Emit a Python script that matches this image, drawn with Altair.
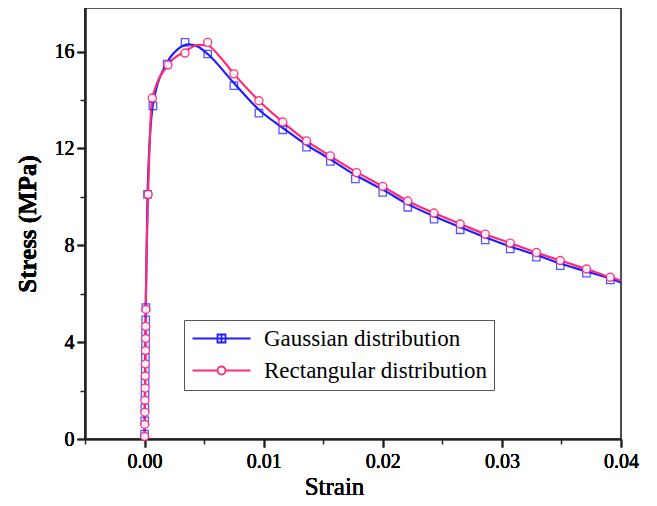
import altair as alt
import pandas as pd

series = ["Gaussian distribution", "Rectangular distribution"]
colors = ["#1e1eff", "#ff2a78"]

# ---- curve data ----
gauss_line_strain = [0.0, 0.0001, 0.00025, 0.0007, 0.0019, 0.0028, 0.0037, 0.0045, 0.0053, 0.0075,
                     0.0096, 0.0116, 0.0136, 0.0156, 0.0177, 0.0200, 0.0221, 0.0243, 0.0265, 0.0286,
                     0.0307, 0.0329, 0.0349, 0.0371, 0.0391, 0.0400]
gauss_line_stress = [0.0, 5.4, 10.1, 13.8, 15.55, 16.1, 16.3, 16.2, 15.9, 14.7,
                     13.6, 12.85, 12.15, 11.55, 10.9, 10.3, 9.7, 9.2, 8.75, 8.33,
                     7.95, 7.6, 7.25, 6.92, 6.62, 6.47]
rect_line_strain = [0.0, 0.0001, 0.0003, 0.00065, 0.00196, 0.0034, 0.0045, 0.0053, 0.0063, 0.0075,
                    0.0096, 0.0116, 0.0136, 0.0156, 0.0178, 0.0200, 0.0221, 0.0243, 0.0265, 0.0286,
                    0.0307, 0.0329, 0.0349, 0.0371, 0.0391, 0.0400]
rect_line_stress = [0.0, 5.4, 10.1, 14.05, 15.45, 16.0, 16.28, 16.25, 15.8, 15.08,
                    13.97, 13.09, 12.31, 11.68, 11.02, 10.43, 9.83, 9.33, 8.88, 8.46,
                    8.09, 7.70, 7.37, 7.02, 6.68, 6.55]

# ---- marker data ----
gauss_mark_strain = [0.000004, 0.000015, 0.000026, 0.000037, 0.000047, 0.000057, 0.000067, 0.000078,
                     0.000088, 0.000098, 0.000109, 0.00025, 0.0007, 0.0019, 0.0034, 0.0053, 0.0075,
                     0.0096, 0.0116, 0.0136, 0.0156, 0.0177, 0.0200, 0.0221, 0.0243, 0.0265, 0.0286,
                     0.0307, 0.0329, 0.0349, 0.0371, 0.0391]
gauss_mark_stress = [0.2, 0.75, 1.3, 1.84, 2.36, 2.87, 3.37, 3.9, 4.4, 4.92, 5.43, 10.1, 13.76, 15.48,
                     16.38, 15.9, 14.59, 13.46, 12.77, 12.05, 11.46, 10.74, 10.18, 9.57, 9.08, 8.64,
                     8.22, 7.85, 7.51, 7.16, 6.85, 6.57]
rect_mark_strain = [0.000004, 0.000015, 0.000026, 0.000037, 0.000047, 0.000057, 0.000067, 0.000078,
                    0.000088, 0.000098, 0.000109, 0.0003, 0.00065, 0.00196, 0.0034, 0.0053, 0.0075,
                    0.0096, 0.0116, 0.0136, 0.0156, 0.0178, 0.0200, 0.0221, 0.0243, 0.0265, 0.0286,
                    0.0307, 0.0329, 0.0349, 0.0371, 0.0391]
rect_mark_stress = [0.1, 0.6, 1.1, 1.6, 2.1, 2.6, 3.1, 3.65, 4.15, 4.65, 5.35, 10.1, 14.08, 15.45,
                    15.94, 16.38, 15.08, 13.97, 13.09, 12.31, 11.69, 11.0, 10.43, 9.83, 9.33, 8.88,
                    8.46, 8.09, 7.70, 7.37, 7.02, 6.68]

x_major = [0.0, 0.01, 0.02, 0.03, 0.04]
x_minor = [-0.005, 0.005, 0.015, 0.025, 0.035]
y_major = [0, 4, 8, 12, 16]
y_minor = [2, 6, 10, 14]

lines = pd.concat([
    pd.DataFrame({"strain": gauss_line_strain, "stress": gauss_line_stress, "series": series[0]}),
    pd.DataFrame({"strain": rect_line_strain, "stress": rect_line_stress, "series": series[1]}),
])
g_marks = pd.DataFrame({"strain": gauss_mark_strain, "stress": gauss_mark_stress, "series": series[0]})
r_marks = pd.DataFrame({"strain": rect_mark_strain, "stress": rect_mark_stress, "series": series[1]})

FONT = "Liberation Serif"
x_scale = alt.Scale(domain=[-0.005, 0.04], nice=False, zero=False)
y_scale = alt.Scale(domain=[0, 17.8], nice=False)

x_enc = alt.X("strain:Q", scale=x_scale,
              axis=alt.Axis(values=x_major, format=".2f", title="Strain", orient="bottom",
                            tickSize=8, labelFontSize=20, titleFontSize=25, titleFontWeight="normal",
                            titleX=249, labelPadding=4, titlePadding=3,
                            labelOverlap=False, labelFlush=False))
y_enc = alt.Y("stress:Q", scale=y_scale,
              axis=alt.Axis(values=y_major, title="Stress (MPa)", orient="left",
                            tickSize=8, labelFontSize=20, titleFontSize=25, titleFontWeight="bold",
                            labelPadding=3, titlePadding=14, labelOverlap=False))

# minor-tick axes (no labels, no domain line)
x_minor_enc = alt.X("strain:Q", scale=x_scale,
                    axis=alt.Axis(values=x_minor, orient="bottom", labels=False, domain=False,
                                  title=None, tickSize=5))
y_minor_enc = alt.Y("stress:Q", scale=y_scale,
                    axis=alt.Axis(values=y_minor, orient="left", labels=False, domain=False,
                                  title=None, tickSize=5))

color_scale = alt.Scale(domain=series, range=colors)

gauss_path = "M-2.9,0H2.9M-0.4,-0.4H0.4V0.4H-0.4ZM0,-0.4V0.4"
rect_path = "M-2.9,0H-0.4M0.4,0H2.9M0.4,0A0.4,0.4 0 1,1 -0.4,0A0.4,0.4 0 1,1 0.4,0Z"

legend = alt.Legend(
    title=None, orient="none", legendX=99, legendY=312,
    symbolSize=400, symbolOffset=19, symbolStrokeWidth=1.8, symbolOpacity=1,
    symbolFillColor="transparent",
    labelFont=FONT, labelFontSize=23, labelColor="black", labelOffset=31,
    labelExpr="datum.label + '    '",
    rowPadding=8, padding=7, strokeColor="#555555", fillColor="white",
    labelLimit=400,
)
color_enc = alt.Color("series:N", scale=color_scale, legend=legend)
shape_enc = alt.Shape("series:N", scale=alt.Scale(domain=series, range=[gauss_path, rect_path]), legend=legend)

line_layer = alt.Chart(lines).mark_line(strokeWidth=2.2, interpolate="monotone").encode(
    x=x_enc, y=y_enc, color=color_enc, detail="series:N",
)

g_layer = alt.Chart(g_marks).mark_point(shape="square", filled=False, size=55, strokeWidth=1.3, opacity=0.75).encode(
    x=x_enc, y=y_enc, color=color_enc,
)
r_layer = alt.Chart(r_marks).mark_point(shape="circle", filled=False, fill="white", fillOpacity=1, size=65, strokeWidth=1.4, opacity=0.9).encode(
    x=x_enc, y=y_enc, color=color_enc,
)

# legend-only layer: no marks drawn (empty after filter); legend comes from the explicit scale domains
legend_layer = alt.Chart(g_marks).mark_point(filled=False, size=400).encode(
    x=x_enc, y=y_enc, color=color_enc, shape=shape_enc,
).transform_filter("datum.stress < 0")

# minor-tick layer: draws nothing itself, only carries the minor-tick axes
minor_layer = alt.Chart(g_marks).mark_point(size=1).encode(
    x=x_minor_enc, y=y_minor_enc,
).transform_filter("datum.stress < 0")

chart = alt.layer(line_layer, g_layer, r_layer, legend_layer, minor_layer).resolve_axis(
    x="independent", y="independent"
).properties(
    width=536, height=431,
    background="white",
    autosize=alt.AutoSizeParams(type="none"),
    padding={"left": 77, "top": 0, "right": 20, "bottom": 60},
).configure_view(
    stroke="#222222", strokeWidth=1.6
).configure_axis(
    grid=False, domainColor="#222222", domainWidth=1.6, tickColor="#222222", tickWidth=1.5,
    labelColor="black", titleColor="black", labelFont=FONT, titleFont=FONT,
)

chart.save("out.html", embed_options={"renderer": "svg", "actions": False})
